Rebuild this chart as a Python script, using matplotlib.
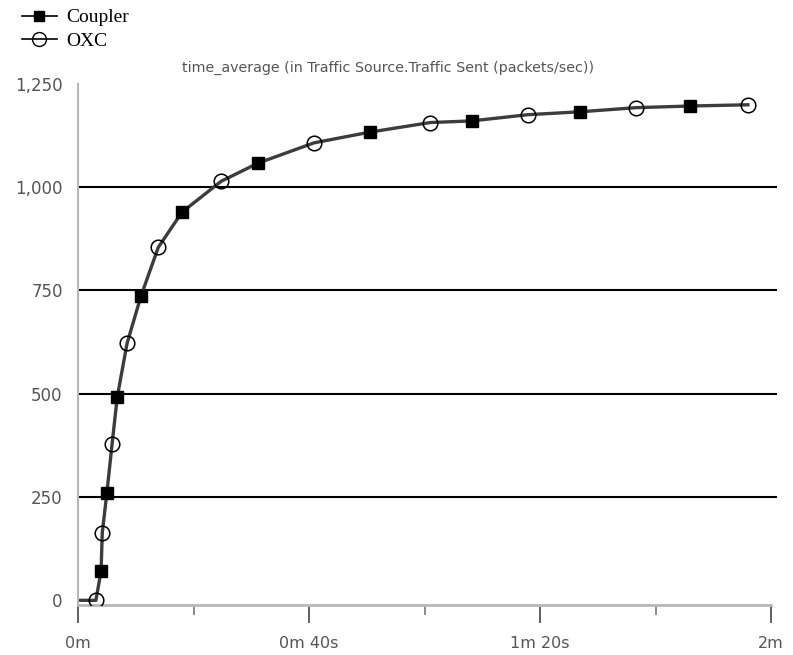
"""Recreate OPNET-style traffic sent chart (Coupler vs OXC)."""

import matplotlib
matplotlib.use("Agg")
import matplotlib.pyplot as plt
from matplotlib.lines import Line2D
from matplotlib.ticker import FixedLocator, FuncFormatter

# ── Data (seconds, packets/sec) ─────────────────────────────────────────
coupler_t = [4.0, 5.0, 6.8, 10.9, 18.0, 31.2, 50.6, 68.2, 86.9, 106.0]
coupler_v = [71, 260, 492, 736, 939, 1058, 1133, 1160, 1182, 1196]

oxc_t = [3.1, 4.2, 5.9, 8.5, 13.9, 24.8, 40.9, 61.0, 77.9, 96.6, 116.0]
oxc_v = [0, 163, 378, 622, 854, 1014, 1107, 1156, 1175, 1192, 1199]

# both runs give the same trace; line starts at the origin
start_t = [0.0]
start_v = [0]

x_major = [0, 40, 80, 120]
x_labels = ["0m", "0m 40s", "1m 20s", "2m"]
x_minor = [20, 60, 100]
y_ticks = [0, 250, 500, 750, 1000, 1250]
grid_levels = [250, 500, 750, 1000]

title = "time_average (in Traffic Source.Traffic Sent (packets/sec))"

LINE = "#3c3c3c"
AXIS = "#b8b8b8"
TEXT = "#555555"

fig = plt.figure(figsize=(7.93, 6.55), dpi=100)
ax = fig.add_axes([78 / 793, 1 - 605 / 655, (777 - 78) / 793, (605 - 83.7) / 655])

px_per_s = (771 - 78) / 120.0
ax.set_xlim(0, (777 - 78) / px_per_s)
ax.set_ylim(-11.3, 1250)

# horizontal grid lines
for lvl in grid_levels:
    ax.axhline(lvl, color="black", lw=1.5, zorder=1)

# shared trace through every sampled point of both series
pts = sorted(zip(start_t + coupler_t + oxc_t, start_v + coupler_v + oxc_v))
ax.plot([p[0] for p in pts], [p[1] for p in pts], color=LINE, lw=2.4,
        solid_joinstyle="round", zorder=2)

sq = dict(marker="s", markersize=8.8, markerfacecolor="black", markeredgecolor="black")
ci = dict(marker="o", markersize=10.5, markerfacecolor="none",
          markeredgecolor="black", markeredgewidth=1.1)
ax.plot(coupler_t, coupler_v, ls="none", zorder=3, **sq)
ax.plot(oxc_t, oxc_v, ls="none", zorder=4, **ci)

# spines
for s in ["top", "right"]:
    ax.spines[s].set_visible(False)
ax.spines["left"].set_color(AXIS)
ax.spines["bottom"].set_color(AXIS)
ax.spines["left"].set_linewidth(1.5)
ax.spines["bottom"].set_linewidth(2)
ax.spines["bottom"].set_bounds(0, 120)

ax.xaxis.set_major_locator(FixedLocator(x_major))
ax.xaxis.set_minor_locator(FixedLocator(x_minor))
ax.set_xticklabels(x_labels)
ax.tick_params(axis="x", which="major", length=13, width=1.2, color="#444444",
               labelsize=11.5, labelcolor=TEXT, pad=9)
ax.tick_params(axis="x", which="minor", length=7, width=1.2, color="#777777")

ax.yaxis.set_major_locator(FixedLocator(y_ticks))
ax.yaxis.set_major_formatter(FuncFormatter(lambda v, p: f"{int(v):,}"))
ax.tick_params(axis="y", length=0, labelsize=12, labelcolor=TEXT, pad=11)

fig.text(388 / 793, 1 - 68 / 655, title, ha="center", va="center",
         fontsize=10.3, color=TEXT)

handles = [
    Line2D([], [], color="black", lw=1.2, markersize=7.5,
           marker="s", markerfacecolor="black", markeredgecolor="black"),
    Line2D([], [], color="black", lw=1.2, markersize=10, marker="o",
           markerfacecolor="none", markeredgecolor="black"),
]
fig.legend(handles, ["Coupler", "OXC"], loc="upper left",
           bbox_to_anchor=(14 / 793, 1 - 1 / 655),
           frameon=False, prop={"family": "Liberation Serif", "size": 14},
           handlelength=1.8, handletextpad=0.5, labelspacing=0.3,
           borderaxespad=0)

fig.savefig("out.png", dpi=100)
plt.close()
